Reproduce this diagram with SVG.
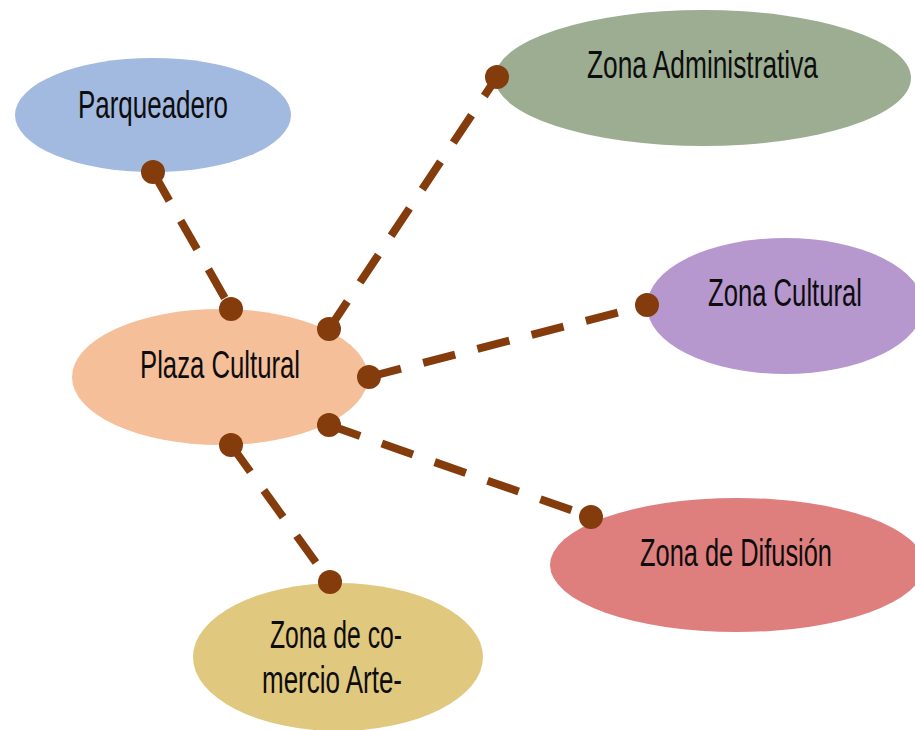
<svg xmlns="http://www.w3.org/2000/svg" width="915" height="730" viewBox="0 0 915 730">
<style>
.lbl{font-family:"Liberation Sans","DejaVu Sans",sans-serif;font-size:38px;fill:#0d0d0d}
.con{stroke:#843C0C;stroke-width:8;stroke-dasharray:33 23;fill:none}
.dot{fill:#843C0C}
</style>
<rect width="915" height="730" fill="#ffffff"/>
<g id="parqueadero">
<ellipse cx="153" cy="115" rx="138" ry="57" fill="#A2B9E0"/>
<text class="lbl" x="78" y="118" textLength="150" lengthAdjust="spacingAndGlyphs">Parqueadero</text>
</g>
<g id="zona-administrativa">
<ellipse cx="703" cy="78" rx="208" ry="68" fill="#9CAD92"/>
<text class="lbl" x="587" y="78" textLength="231" lengthAdjust="spacingAndGlyphs">Zona Administrativa</text>
</g>
<g id="plaza-cultural">
<ellipse cx="220" cy="377" rx="148" ry="68" fill="#F5BF9A"/>
<text class="lbl" x="140" y="378" textLength="160" lengthAdjust="spacingAndGlyphs">Plaza Cultural</text>
</g>
<g id="zona-cultural">
<ellipse cx="785" cy="306" rx="138" ry="68" fill="#B698CF"/>
<text class="lbl" x="708" y="306" textLength="154" lengthAdjust="spacingAndGlyphs">Zona Cultural</text>
</g>
<g id="zona-difusion">
<ellipse cx="737" cy="565" rx="187" ry="67" fill="#DE7F7E"/>
<text class="lbl" x="640" y="566" textLength="192" lengthAdjust="spacingAndGlyphs">Zona de Difusión</text>
</g>
<g id="zona-comercio">
<ellipse cx="338" cy="657" rx="145" ry="74" fill="#E0C87F"/>
<text class="lbl" x="270" y="648" textLength="132" lengthAdjust="spacingAndGlyphs">Zona de co-</text>
<text class="lbl" x="262" y="693" textLength="140" lengthAdjust="spacingAndGlyphs">mercio Arte-</text>
</g>
<g id="connectors">
<line class="con" x1="153" y1="172" x2="231" y2="309"/>
<line class="con" x1="329" y1="329" x2="497" y2="77"/>
<line class="con" x1="369" y1="377" x2="647" y2="305"/>
<line class="con" x1="329" y1="425" x2="591" y2="517"/>
<line class="con" x1="231" y1="445" x2="330" y2="582"/>
<circle class="dot" cx="153" cy="172" r="12"/>
<circle class="dot" cx="231" cy="309" r="12"/>
<circle class="dot" cx="329" cy="329" r="12"/>
<circle class="dot" cx="497" cy="77" r="12"/>
<circle class="dot" cx="369" cy="377" r="12"/>
<circle class="dot" cx="647" cy="305" r="12"/>
<circle class="dot" cx="329" cy="425" r="12"/>
<circle class="dot" cx="591" cy="517" r="12"/>
<circle class="dot" cx="231" cy="445" r="12"/>
<circle class="dot" cx="330" cy="582" r="12"/>
</g>
</svg>
